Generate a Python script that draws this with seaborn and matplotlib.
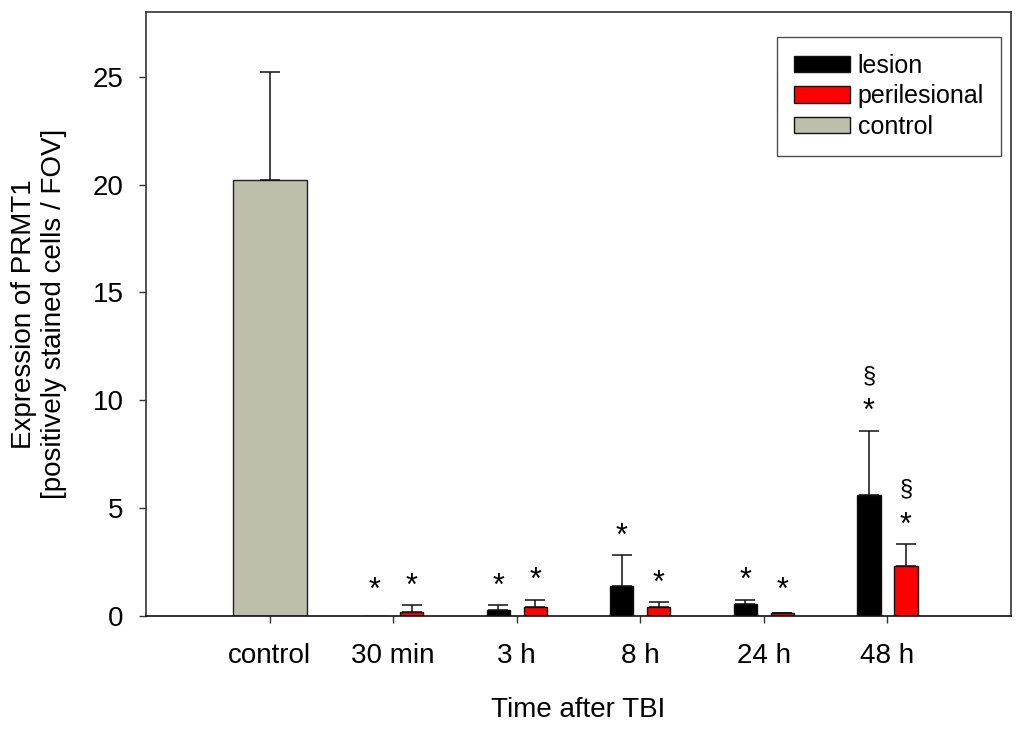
import numpy as np
import pandas as pd
import matplotlib
matplotlib.use("Agg")
import matplotlib.pyplot as plt
from matplotlib.patches import Patch
import seaborn as sns

# ---- data ----
categories = ["control", "30 min", "3 h", "8 h", "24 h", "48 h"]
times = ["30 min", "3 h", "8 h", "24 h", "48 h"]
lesion_mean = [0.0, 0.26, 1.37, 0.54, 5.63]
lesion_sem = [0.0, 0.24, 1.44, 0.21, 2.95]
peri_mean = [0.20, 0.42, 0.42, 0.12, 2.33]
peri_sem = [0.30, 0.33, 0.21, 0.02, 0.99]
control_mean = [20.2]
control_sem = [5.03]
lesion_marks = ["*", "*", "*", "*", "*"]
peri_marks = ["*", "*", "*", "*", "*"]
lesion_sect = ["", "", "", "", "§"]
peri_sect = ["", "", "", "", "§"]
regions = ["lesion", "perilesional"]
region_colors = {"lesion": "#000000", "perilesional": "#FF0000"}
control_color = "#BDBEAB"
y_ticks = [0, 5, 10, 15, 20, 25]

sns.set_theme(style="ticks")
plt.rcParams["font.family"] = ["Liberation Sans", "DejaVu Sans"]
plt.rcParams["text.color"] = "black"
plt.rcParams["axes.labelcolor"] = "black"

df = pd.DataFrame({
    "time": times * 2,
    "region": ["lesion"] * len(times) + ["perilesional"] * len(times),
    "value": lesion_mean + peri_mean,
    "sem": lesion_sem + peri_sem,
})
ctrl = pd.DataFrame({"time": ["control"], "value": control_mean, "sem": control_sem})

fig = plt.figure(figsize=(10.24, 7.30), dpi=100)
ax = fig.add_axes([146 / 1024, 114 / 730, 865 / 1024, 604 / 730])

sns.barplot(data=ctrl, x="time", y="value", order=categories, color=control_color,
            width=0.6, errorbar=None, edgecolor="#222222", linewidth=1.0, ax=ax,
            saturation=1)
sns.barplot(data=df, x="time", y="value", hue="region", order=categories,
            hue_order=regions, palette=region_colors, width=0.6, gap=0.37,
            errorbar=None, edgecolor="#111111", linewidth=1.0, ax=ax,
            saturation=1, legend=False)

# error bars (upper only) derived from drawn bars
sem_lookup = {("control", "control"): control_sem[0]}
for t, s in zip(times, lesion_sem):
    sem_lookup[(t, "lesion")] = s
for t, s in zip(times, peri_sem):
    sem_lookup[(t, "perilesional")] = s
marks_lookup = {}
for t, m, sct in zip(times, lesion_marks, lesion_sect):
    marks_lookup[(t, "lesion")] = (m, sct)
for t, m, sct in zip(times, peri_marks, peri_sect):
    marks_lookup[(t, "perilesional")] = (m, sct)

container_names = ["control"] + regions
for cont, name in zip(ax.containers, container_names):
    for bar in cont:
        xc = bar.get_x() + bar.get_width() / 2
        cat = categories[int(round(xc))]
        h = bar.get_height()
        key = ("control", "control") if name == "control" else (cat, name)
        s = sem_lookup.get(key, 0.0)
        if s > 0:
            ax.errorbar([xc], [h], yerr=[[0], [s]], fmt="none", ecolor="#111111",
                        elinewidth=1.1, capsize=7.5, capthick=1.1, zorder=3)
        if key in marks_lookup:
            m, sct = marks_lookup[key]
            top = max(h + s, 0.28)
            ax.text(xc, top + 0.5, m, ha="center", va="baseline", fontsize=22,
                    color="black")
            if sct:
                ax.text(xc, top + 2.25, sct, ha="center", va="baseline",
                        fontsize=17, color="black")

ax.set_xlim(-1, 6)
ax.set_ylim(0, 28)
ax.set_yticks(y_ticks)
ax.set_yticklabels([str(v) for v in y_ticks])
ax.tick_params(axis="both", direction="out", length=5, width=1, colors="#333333",
               labelsize=20, labelcolor="black")
ax.tick_params(axis="y", pad=11)
ax.tick_params(axis="x", pad=14.5)
for sp in ax.spines.values():
    sp.set_visible(True)
    sp.set_color("#333333")
    sp.set_linewidth(1.2)
ax.spines["bottom"].set_color("#111111")

ax.set_xlabel("Time after TBI", fontsize=20, labelpad=20, color="black")
ax.set_ylabel("Expression of PRMT1\n[positively stained cells / FOV]", fontsize=20,
              linespacing=1.2, color="black")
ax.yaxis.set_label_coords((67 - 146) / 865, 0.5)

handles = [Patch(facecolor=region_colors["lesion"], edgecolor="#111111", label="lesion"),
           Patch(facecolor=region_colors["perilesional"], edgecolor="#111111", label="perilesional"),
           Patch(facecolor=control_color, edgecolor="#111111", label="control")]
leg = ax.legend(handles=handles, loc="upper right",
                bbox_to_anchor=((1001 - 146) / 865, (616 - 37) / 604),
                borderaxespad=0, fontsize=18, frameon=True, fancybox=False,
                handlelength=2.24, handleheight=0.64, handletextpad=0.32,
                labelspacing=0.26, borderpad=0.68)
leg.get_frame().set_edgecolor("#222222")
leg.get_frame().set_linewidth(1.0)
for t in leg.get_texts():
    t.set_color("black")

fig.savefig("out.png", dpi=100)
